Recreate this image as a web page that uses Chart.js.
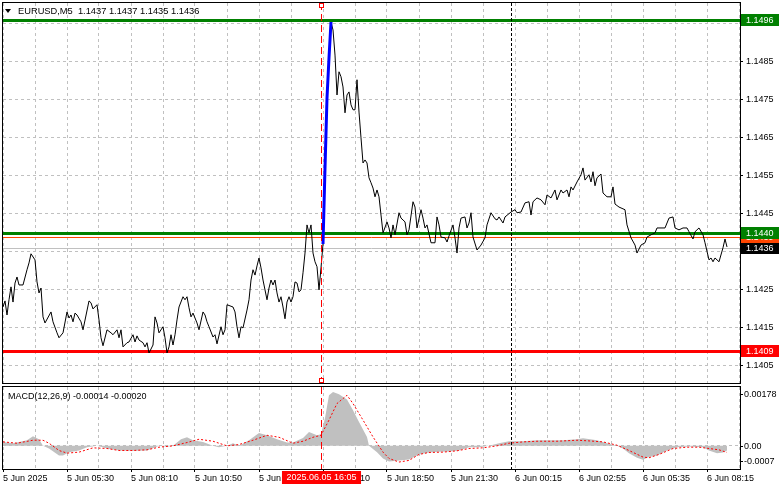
<!DOCTYPE html>
<html>
<head>
<meta charset="utf-8">
<script src="https://cdn.jsdelivr.net/npm/chart.js@4.4.1/dist/chart.umd.min.js"></script>
<style>
html, body { margin: 0; padding: 0; background: #fff; }
#wrap { position: relative; width: 781px; height: 489px; }
#priceChart { position: absolute; left: 0; top: 0; }
#macdChart { position: absolute; left: 0; top: 386px; }
</style>
</head>
<body>
<div id="wrap">
  <canvas id="priceChart" width="781" height="386"></canvas>
  <canvas id="macdChart" width="781" height="103"></canvas>
</div>
<script>
// EURUSD M5 close prices, x = bar number from the left edge
const priceBars = [0,1,2,3,4,5,6,7,8,10,12,13,14,16,17,18,19,20,21,24,25,27,28,30,32,33,34,35,36,37,39,40,43,44,45,47,48,49,50,52,54,55,57,58,59,60,62,63,65,66,67,68,70,71,72,73,75,76,77,78,80,81,82,83,84,85,86,87,88,90,91,92,93,94,95,97,98,100,101,102,103,105,106,107,109,110,111,112,115,116,117,118,119,120,122,123,124,125,126,127,128,129,130,132,133,134,135,136,137,138,139,140,141,142,143,144,145,146,147,148,149,150,151,152,153,154,155,156,157,158,159,160,161,162,163,164,165,166,167,168,169,170,171,172,173,174,175,176,177,178,179,180,181,182,183,184,185,186,187,188,189,190,192,193,194,195,196,198,199,201,202,203,205,206,207,209,210,211,212,214,216,217,218,219,221,222,223,225,226,227,228,229,231,232,233,234,235,237,239,241,242,244,246,247,248,250,251,254,256,257,259,261,263,264,265,267,269,271,272,274,276,277,279,280,282,283,284,285,287,289,290,291,293,294,295,296,297,299,300,302,304,305,306,308,311,312,314,316,317,319,321,322,324,326,327,329,331,333,335,336,338,340,342,343,345,346,348,350,351,353,354,355,356,358,360,361,362];
const priceClose = [1.14205,1.14221,1.14184,1.14224,1.14258,1.14218,1.14268,1.14284,1.14263,1.14263,1.14303,1.14321,1.14345,1.14329,1.14271,1.14242,1.14255,1.14179,1.14163,1.14192,1.14166,1.14137,1.14124,1.14137,1.14192,1.14176,1.14184,1.14166,1.14189,1.14184,1.14166,1.14145,1.14221,1.14216,1.14200,1.14211,1.14171,1.14124,1.14103,1.14145,1.14137,1.14132,1.14145,1.14124,1.14145,1.14100,1.14111,1.14113,1.14132,1.14113,1.14129,1.14118,1.14111,1.14100,1.14111,1.14084,1.14105,1.14179,1.14163,1.14137,1.14153,1.14124,1.14084,1.14100,1.14132,1.14105,1.14132,1.14171,1.14205,1.14232,1.14224,1.14232,1.14203,1.14179,1.14189,1.14163,1.14145,1.14192,1.14184,1.14166,1.14153,1.14126,1.14132,1.14108,1.14153,1.14132,1.14145,1.14211,1.14205,1.14192,1.14153,1.14124,1.14153,1.14150,1.14197,1.14224,1.14276,1.14303,1.14289,1.14313,1.14334,1.14308,1.14276,1.14224,1.14255,1.14276,1.14263,1.14276,1.14242,1.14218,1.14232,1.14205,1.14174,1.14218,1.14232,1.14218,1.14232,1.14271,1.14268,1.14245,1.14250,1.14295,1.14347,1.14421,1.14400,1.14421,1.14347,1.14324,1.14311,1.14250,1.14308,1.14371,1.14571,1.14755,1.14861,1.14955,1.14934,1.14868,1.14763,1.14824,1.14811,1.14784,1.14716,1.14763,1.14771,1.14737,1.14724,1.14724,1.14803,1.14718,1.14650,1.14584,1.14592,1.14584,1.14545,1.14532,1.14518,1.14495,1.14513,1.14495,1.14447,1.14400,1.14429,1.14413,1.14387,1.14421,1.14395,1.14453,1.14439,1.14429,1.14395,1.14408,1.14482,1.14468,1.14413,1.14461,1.14439,1.14413,1.14421,1.14374,1.14374,1.14442,1.14421,1.14389,1.14387,1.14376,1.14392,1.14421,1.14387,1.14347,1.14413,1.14439,1.14442,1.14413,1.14426,1.14453,1.14389,1.14355,1.14368,1.14387,1.14421,1.14453,1.14437,1.14434,1.14442,1.14426,1.14442,1.14455,1.14461,1.14453,1.14455,1.14479,1.14482,1.14447,1.14482,1.14492,1.14487,1.14474,1.14500,1.14492,1.14513,1.14487,1.14513,1.14505,1.14513,1.14495,1.14521,1.14513,1.14534,1.14553,1.14571,1.14539,1.14553,1.14534,1.14561,1.14524,1.14545,1.14555,1.14505,1.14495,1.14495,1.14521,1.14476,1.14468,1.14461,1.14421,1.14387,1.14368,1.14347,1.14368,1.14374,1.14389,1.14395,1.14400,1.14413,1.14413,1.14413,1.14439,1.14442,1.14413,1.14408,1.14413,1.14413,1.14403,1.14384,1.14403,1.14413,1.14395,1.14374,1.14329,1.14334,1.14324,1.14334,1.14324,1.14361,1.14384,1.14363];

// highlighted spike bars (blue)
const spikeStart = 160;
const spikeEnd = 164;

// MACD histogram and signal
const histBars = [0,5,8,12,15,18,20,23,28,30,33,38,42,47,52,58,65,72,78,82,85,89,92,95,100,105,108,112,115,118,123,128,132,137,142,145,150,153,157,159,161,163,165,168,172,175,178,182,183,187,190,193,198,203,208,213,218,223,228,233,238,243,248,253,260,267,273,280,287,290,297,302,307,310,313,317,320,323,327,332,337,343,350,353,357,360,362];
const histVals = [0.00012,0.00008,0.00012,0.00017,0.00029,0.00020,0,-0.00008,-0.00029,-0.00029,-0.00019,-0.00014,-0.00004,0,-0.00008,-0.00014,-0.00015,-0.00014,0,-0.00003,0,0.00020,0.00026,0.00017,0.00012,0,-0.00004,0,0.00008,0,0.00017,0.00039,0.00032,0.00020,0.00010,0.00010,0.00024,0.00042,0.00032,0.00035,0.00084,0.00153,0.00163,0.00156,0.00140,0.00108,0.00072,0.00027,0,-0.00019,-0.00038,-0.00047,-0.00044,-0.00041,-0.00026,-0.00020,-0.00018,-0.00017,-0.00014,-0.00004,-0.00004,0,0.00008,0.00014,0.00014,0.00017,0.00017,0.00017,0.00020,0.00023,0.00017,0.00008,0,-0.00008,-0.00022,-0.00036,-0.00042,-0.00034,-0.00029,-0.00014,-0.00004,-0.00002,-0.00004,-0.00014,-0.00022,-0.00020,-0.00014];
const sigBars = [0,7,15,20,23,28,32,38,45,52,58,65,72,78,85,92,98,105,112,118,125,132,138,145,150,155,159,163,167,172,175,180,185,190,193,198,203,208,213,220,227,233,240,247,253,260,267,277,287,293,300,307,313,320,323,328,335,342,348,353,358,362];
const sigVals = [0.00012,0.00008,0.00017,0.00017,0.00008,-0.00014,-0.00022,-0.00019,-0.00006,-0.00008,-0.00014,-0.00014,-0.00012,-0.00004,0,0.00010,0.00020,0.00014,0,0.00004,0.00017,0.00032,0.00026,0.00008,0.00014,0.00026,0.00032,0.00078,0.00128,0.00153,0.00128,0.00078,0.00027,-0.00019,-0.00038,-0.00049,-0.00044,-0.00026,-0.00020,-0.00019,-0.00015,-0.00008,-0.00006,0,0.00008,0.00012,0.00014,0.00014,0.00017,0.00015,0.00012,0.00002,-0.00014,-0.00034,-0.00036,-0.00026,-0.00008,-0.00004,-0.00004,-0.00008,-0.00012,-0.00020];

// axes
const priceTicks = [1.1405,1.1415,1.1425,1.1435,1.1445,1.1455,1.1465,1.1475,1.1485,1.1495];
const gridBars = [0,16,32,48,64,80,96,112,128,144,160,176,192,208,224,240,256,272,288,304,320,336,352,368];
const timeBars = [0,32,64,96,128,160,192,224,256,288,320,352];
const timeLabels = ['5 Jun 2025','5 Jun 05:30','5 Jun 08:10','5 Jun 10:50','5 Jun 13:30','5 Jun 16:10','5 Jun 18:50','5 Jun 21:30','6 Jun 00:15','6 Jun 02:55','6 Jun 05:35','6 Jun 08:15'];
const macdMax = 0.00178;
const macdMin = -0.0007;

// horizontal levels (drawing order) and markers
const levelValues = [1.1496, 1.1409, 1.1436, 1.1439, 1.1440];
const eventBar = 159;
const eventLabel = '2025.06.05 16:05';
const dayBreakBar = 254;
const headerText = 'EURUSD,M5  1.1437 1.1437 1.1435 1.1436';
const macdText = 'MACD(12,26,9) -0.00014 -0.00020';

// styles
const levelColors = ['#008000', '#ff0000', '#c0c0c0', '#ff4500', '#008000'];
const levelWidths = [3, 3, 1, 1, 3];
const GRID = '#c0c0c0';
const FONT = '"Liberation Sans", Arial, sans-serif';
const TXT = '9px ' + FONT;

Chart.defaults.font.family = FONT;
Chart.defaults.font.size = 9;
Chart.defaults.color = '#000';

function frame(ctx, a) {
    ctx.save();
    ctx.strokeStyle = '#000';
    ctx.lineWidth = 1;
    ctx.strokeRect(a.left - 0.5, a.top - 0.5, a.right - a.left + 1, a.bottom - a.top + 1);
    ctx.restore();
}

function vLines(chart) {
    const {ctx, chartArea: a, scales: {x}} = chart;
    ctx.save();
    ctx.lineWidth = 1;
    let px = Math.round(x.getPixelForValue(dayBreakBar)) + 0.5;
    ctx.strokeStyle = '#000';
    ctx.setLineDash([3, 2]);
    ctx.beginPath(); ctx.moveTo(px, a.top); ctx.lineTo(px, a.bottom); ctx.stroke();
    px = Math.round(x.getPixelForValue(eventBar)) + 0.5;
    ctx.strokeStyle = '#ff0000';
    ctx.setLineDash([7, 4]);
    ctx.beginPath(); ctx.moveTo(px, a.top); ctx.lineTo(px, a.bottom); ctx.stroke();
    ctx.restore();
}

// no extra room for the first/last tick label
function noPad(s) {
    s.paddingTop = 0;
    s.paddingBottom = 0;
}

const pricePlugin = {
    id: 'pricePlugin',
    beforeDatasetsDraw(chart) {
        const {ctx, chartArea: a, scales: {y}} = chart;
        ctx.save();
        ctx.beginPath();
        ctx.rect(a.left, a.top, a.right - a.left, a.bottom - a.top);
        ctx.clip();
        levelValues.forEach((v, i) => {
            const py = Math.round(y.getPixelForValue(v)) + (levelWidths[i] % 2 ? 0.5 : 0);
            ctx.strokeStyle = levelColors[i];
            ctx.lineWidth = levelWidths[i];
            ctx.beginPath(); ctx.moveTo(a.left, py); ctx.lineTo(a.right, py); ctx.stroke();
        });
        ctx.restore();
    },
    afterDatasetsDraw(chart) {
        vLines(chart);
    },
    afterDraw(chart) {
        const {ctx, chartArea: a, scales: {x, y}} = chart;
        frame(ctx, a);
        ctx.save();
        // anchor squares of the vertical line
        const ex = Math.round(x.getPixelForValue(eventBar));
        ctx.strokeStyle = '#ff0000';
        ctx.lineWidth = 1;
        ctx.fillStyle = '#fff';
        ctx.fillRect(ex - 2, a.top, 4, 4);
        ctx.strokeRect(ex - 1.5, a.top + 0.5, 4, 4);
        ctx.fillRect(ex - 2, a.bottom - 4, 4, 4);
        ctx.strokeRect(ex - 1.5, a.bottom - 4.5, 4, 4);
        // header
        ctx.fillStyle = '#000';
        ctx.beginPath(); ctx.moveTo(5, 9); ctx.lineTo(11, 9); ctx.lineTo(8, 13); ctx.closePath(); ctx.fill();
        ctx.font = '9.3px ' + FONT;
        ctx.textBaseline = 'middle';
        ctx.textAlign = 'left';
        ctx.fillText(headerText, 18, 11.5);
        // level labels on the price scale
        ctx.font = TXT;
        levelValues.forEach((v, i) => {
            const py = y.getPixelForValue(v);
            const c = levelColors[i] === '#c0c0c0' ? '#000' : levelColors[i];
            ctx.fillStyle = c;
            ctx.fillRect(a.right + 1, Math.round(py) - 6, 38, 12);
            ctx.fillStyle = '#fff';
            ctx.fillText(v.toFixed(4), a.right + 6, Math.round(py) + 0.5);
        });
        ctx.restore();
    }
};

const macdPlugin = {
    id: 'macdPlugin',
    afterDatasetsDraw(chart) {
        vLines(chart);
    },
    afterDraw(chart) {
        const {ctx, chartArea: a, scales: {x, y}} = chart;
        frame(ctx, a);
        ctx.save();
        ctx.font = TXT;
        ctx.fillStyle = '#000';
        ctx.textBaseline = 'middle';
        ctx.textAlign = 'left';
        ctx.fillText(macdText, 8, 10.5);
        // scale labels
        const rows = [[macdMax.toFixed(5), a.top + 7], ['0.00', y.getPixelForValue(0)], [macdMin.toFixed(4), a.bottom - 8]];
        ctx.strokeStyle = '#000';
        ctx.lineWidth = 1;
        rows.forEach(([t, py]) => {
            const r = Math.round(py) + 0.5;
            ctx.beginPath(); ctx.moveTo(a.right, r); ctx.lineTo(a.right + 3, r); ctx.stroke();
            ctx.fillText(t, a.right + 4, r);
        });
        // time box of the marked bar
        const ex = Math.round(x.getPixelForValue(eventBar));
        const w = ctx.measureText(eventLabel).width + 9;
        ctx.fillStyle = '#ff0000';
        ctx.fillRect(ex - w / 2 + 0.5, a.bottom + 2, w, 13);
        ctx.fillStyle = '#fff';
        ctx.textAlign = 'center';
        ctx.fillText(eventLabel, ex + 0.5, a.bottom + 9);
        ctx.restore();
    }
};

const xGridTicks = s => { s.ticks = gridBars.map(v => ({value: v})); };

new Chart(document.getElementById('priceChart').getContext('2d'), {
    type: 'line',
    data: {
        datasets: [{
            data: priceBars.map((b, i) => ({x: b, y: priceClose[i]})).filter(p => p.x >= spikeStart && p.x <= spikeEnd),
            borderColor: '#0000ff',
            borderWidth: 3,
            pointRadius: 0,
            tension: 0
        }, {
            data: priceBars.map((b, i) => ({x: b, y: priceClose[i]})),
            borderColor: '#000',
            borderWidth: 1,
            pointRadius: 0,
            tension: 0
        }]
    },
    options: {
        responsive: false,
        animation: false,
        devicePixelRatio: 1,
        events: [],
        layout: {padding: {left: 3, top: 3, right: 0, bottom: 3}},
        plugins: {legend: {display: false}, tooltip: {enabled: false}},
        scales: {
            x: {
                type: 'linear', min: 0, max: 368.5,
                afterBuildTicks: xGridTicks,
                afterFit: s => { s.height = 0; },
                ticks: {display: false},
                grid: {color: GRID, drawTicks: false},
                border: {display: false, dash: [3, 3]}
            },
            y: {
                position: 'right', min: 1.14005, max: 1.15005,
                afterBuildTicks: s => { s.ticks = priceTicks.map(v => ({value: v})); },
                afterFit: s => { s.width = 41; noPad(s); },
                ticks: {padding: 3, callback: v => v.toFixed(4)},
                grid: {color: GRID, tickColor: '#000', tickLength: 3, tickBorderDash: []},
                border: {display: false, dash: [3, 3]}
            }
        }
    },
    plugins: [pricePlugin]
});

new Chart(document.getElementById('macdChart').getContext('2d'), {
    type: 'line',
    data: {
        datasets: [{
            data: sigBars.map((b, i) => ({x: b, y: sigVals[i]})),
            borderColor: '#ff0000',
            borderWidth: 1,
            borderDash: [2, 2],
            pointRadius: 0,
            tension: 0
        }, {
            data: histBars.map((b, i) => ({x: b, y: histVals[i]})),
            borderWidth: 0,
            borderColor: 'rgba(0,0,0,0)',
            backgroundColor: '#c0c0c0',
            fill: 'origin',
            pointRadius: 0,
            tension: 0
        }]
    },
    options: {
        responsive: false,
        animation: false,
        devicePixelRatio: 1,
        events: [],
        layout: {padding: {left: 3, top: 1, right: 0, bottom: 0}},
        plugins: {legend: {display: false}, tooltip: {enabled: false}},
        scales: {
            x: {
                type: 'linear', min: 0, max: 368.5,
                afterBuildTicks: xGridTicks,
                afterFit: s => { s.height = 20; },
                ticks: {
                    autoSkip: false, maxRotation: 0, align: 'start', padding: 1,
                    callback: v => { const k = timeBars.indexOf(v); return k >= 0 ? timeLabels[k] : ''; }
                },
                grid: {color: GRID, tickLength: 3, tickBorderDash: [], tickColor: c => c.index % 2 ? 'rgba(0,0,0,0)' : '#000'},
                border: {display: false, dash: [3, 3]}
            },
            y: {
                position: 'right', min: macdMin, max: macdMax,
                afterBuildTicks: s => { s.ticks = [{value: 0}]; },
                afterFit: s => { s.width = 41; noPad(s); },
                ticks: {display: false},
                grid: {color: GRID, drawTicks: false},
                border: {display: false, dash: [3, 3]}
            }
        }
    },
    plugins: [macdPlugin]
});
</script>
</body>
</html>
